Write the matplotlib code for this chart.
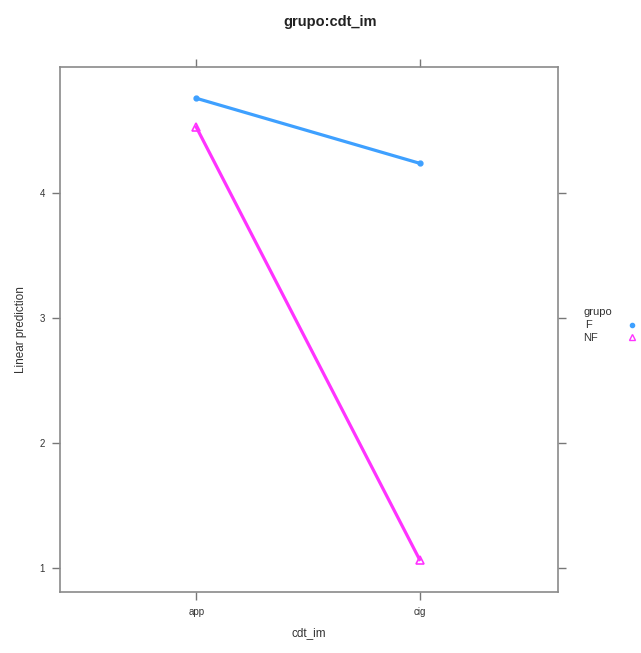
import matplotlib.pyplot as plt

plt.rcParams['font.family'] = ['Liberation Sans', 'DejaVu Sans']

# data (lattice effect plot)
levels = ['app', 'cig']
grupos = ['F', 'NF']
pred_F = [4.76, 4.24]
pred_NF = [4.53, 1.07]
yticks = [1, 2, 3, 4]

W, H = 641, 653
fig = plt.figure(figsize=(W / 100, H / 100), dpi=100)
ax = fig.add_axes([60 / W, (H - 592) / H, (558 - 60) / W, (592 - 67) / H])

x = [1, 2]
ax.plot(x, pred_F, '-', color='#3ea0ff', lw=2.3, marker='o', ms=3.5,
        markerfacecolor='#3ea0ff', markeredgecolor='#3ea0ff')
ax.plot(x, pred_NF, '-', color='#ff33ff', lw=2.3, marker='^', ms=6,
        markerfacecolor='none', markeredgecolor='#ff33ff', markeredgewidth=1.2)

ax.set_xlim(0.39, 2.62)
ax.set_ylim(0.81, 5.01)
ax.set_xticks(x)
ax.set_xticklabels(levels)
ax.set_yticks(yticks)
ax.tick_params(axis='both', labelsize=7, colors='#777777', labelcolor='#333333',
               length=6, width=1, direction='out', pad=5,
               top=True, right=True, labeltop=False, labelright=False)
for s in ax.spines.values():
    s.set_color('#8a8a8a')
    s.set_linewidth(1.2)

ax.set_xlabel('cdt_im', fontsize=8.5, color='#333333', labelpad=7)
ax.set_ylabel('Linear prediction', fontsize=8.5, color='#333333', labelpad=9)
fig.text(330 / W, 1 - 22 / H, 'grupo:cdt_im', ha='center', va='center',
         fontsize=10.5, fontweight='bold', color='#222222')

# legend on the right, lattice style
fig.text(583 / W, 1 - 312 / H, 'grupo', fontsize=8, color='#333333', va='center')
fig.text(585 / W, 1 - 325 / H, 'F', fontsize=8, color='#333333', va='center')
fig.text(583 / W, 1 - 338 / H, 'NF', fontsize=8, color='#333333', va='center')
fig.lines.append(plt.Line2D([632 / W], [1 - 325 / H], transform=fig.transFigure,
                            marker='o', ms=3, color='#3ea0ff', ls='none'))
fig.lines.append(plt.Line2D([632 / W], [1 - 337 / H], transform=fig.transFigure,
                            marker='^', ms=5, markerfacecolor='none',
                            markeredgecolor='#ff33ff', ls='none'))

fig.savefig('out.png', dpi=100)
